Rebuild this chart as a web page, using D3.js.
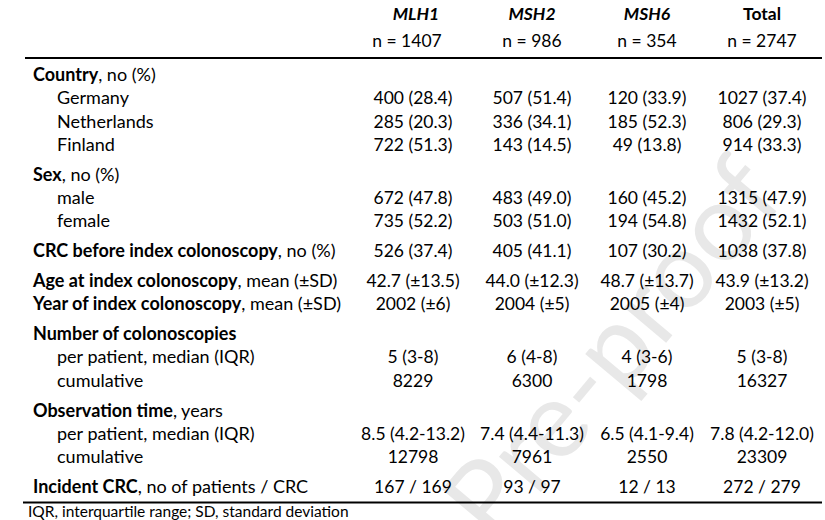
<!DOCTYPE html>
<html>
<head>
<meta charset="utf-8">
<script src="https://cdn.jsdelivr.net/npm/d3@7"></script>
<style>
  html, body { margin: 0; padding: 0; background: #fff; }
  svg { display: block; }
  text { font-family: Lato, "Open Sans", sans-serif; fill: #000; }
</style>
</head>
<body>
<svg id="chart" width="825" height="520"></svg>
<script>
// ---- data ----
const columns = ["MLH1", "MSH2", "MSH6", "Total"];
const columnItalic = [true, true, true, false];
const columnN = ["n = 1407", "n = 986", "n = 354", "n = 2747"];

const rowBold = ["Country", "", "", "", "Sex", "", "", "CRC before index colonoscopy",
  "Age at index colonoscopy", "Year of index colonoscopy", "Number of colonoscopies", "", "",
  "Observation time", "", "", "Incident CRC"];
const rowRest = [", no (%)", "Germany", "Netherlands", "Finland", ", no (%)", "male", "female",
  ", no (%)", ", mean (±SD)", ", mean (±SD)", "", "per patient, median (IQR)", "cumulative",
  ", years", "per patient, median (IQR)", "cumulative", ", no of patients / CRC"];
// rows that start a new block (extra space above)
const rowNewBlock = [false, false, false, false, true, false, false, true, true, false, true,
  false, false, true, false, false, true];

const valuesMLH1 = ["", "400 (28.4)", "285 (20.3)", "722 (51.3)", "", "672 (47.8)", "735 (52.2)",
  "526 (37.4)", "42.7 (±13.5)", "2002 (±6)", "", "5 (3-8)", "8229", "", "8.5 (4.2-13.2)", "12798", "167 / 169"];
const valuesMSH2 = ["", "507 (51.4)", "336 (34.1)", "143 (14.5)", "", "483 (49.0)", "503 (51.0)",
  "405 (41.1)", "44.0 (±12.3)", "2004 (±5)", "", "6 (4-8)", "6300", "", "7.4 (4.4-11.3)", "7961", "93 / 97"];
const valuesMSH6 = ["", "120 (33.9)", "185 (52.3)", "49 (13.8)", "", "160 (45.2)", "194 (54.8)",
  "107 (30.2)", "48.7 (±13.7)", "2005 (±4)", "", "4 (3-6)", "1798", "", "6.5 (4.1-9.4)", "2550", "12 / 13"];
const valuesTotal = ["", "1027 (37.4)", "806 (29.3)", "914 (33.3)", "", "1315 (47.9)", "1432 (52.1)",
  "1038 (37.8)", "43.9 (±13.2)", "2003 (±5)", "", "5 (3-8)", "16327", "", "7.8 (4.2-12.0)", "23309", "272 / 279"];

const footnote = "IQR, interquartile range; SD, standard deviation";
const watermark = "Journal Pre-proof";

// ---- layout ----
const svg = d3.select("#chart");
const fsLabel = 18, fsValue = 17.5;

// column positions (scale over the four column names)
const x = d3.scaleOrdinal().domain(columns).range([413, 532, 647, 762]);

// vertical slot scale: each row = 1 slot, new block adds gap
const gapRatio = 6.5 / 23.3;
let acc = 0;
const slots = rowBold.map((b, i) => { if (i > 0) acc += 1 + (rowNewBlock[i] ? gapRatio : 0); return acc; });
const y = d3.scaleLinear().domain([0, slots[slots.length - 1]]).range([75, 487]);
const baseOff = 6;

// watermark
const wm = svg.append("g").attr("class", "watermark");
const wmSize = 108;
const wmText = wm.append("text")
  .attr("font-size", wmSize)
  .style("fill", "#e8e8e8")
  .text(watermark);
(function () {
  const tmp = wm.append("text").attr("font-size", wmSize).text("Pre-proof");
  const wPre = tmp.node().getComputedTextLength();
  tmp.remove();
  const cx = 612, cy = 348, ang = -50;
  wmText.attr("text-anchor", "end")
    .attr("transform", `translate(${cx},${cy}) rotate(${ang}) translate(${wPre / 2},38)`);
})();

// header
const head = svg.append("g");
head.selectAll("text.col").data(columns).join("text")
  .attr("class", "col")
  .attr("x", d => x(d) + (d === "MLH1" ? 3 : 0)).attr("y", 20)
  .attr("text-anchor", "middle")
  .attr("font-size", fsValue).attr("font-weight", "bold")
  .attr("font-style", (d, i) => columnItalic[i] ? "italic" : "normal")
  .text(d => d);
head.selectAll("text.n").data(columnN).join("text")
  .attr("class", "n")
  .attr("x", (d, i) => x(columns[i]) - (i === 0 ? 6 : 0)).attr("y", 47)
  .attr("text-anchor", "middle")
  .attr("font-size", fsValue)
  .text(d => d);

// rules
svg.append("line").attr("x1", 25).attr("x2", 822).attr("y1", 58).attr("y2", 58)
  .attr("stroke", "#000").attr("stroke-width", 2);
svg.append("line").attr("x1", 23).attr("x2", 822).attr("y1", 502.5).attr("y2", 502.5)
  .attr("stroke", "#000").attr("stroke-width", 2);

// row labels
const rows = rowBold.map((b, i) => ({ b, r: rowRest[i], i }));
const lab = svg.append("g").selectAll("text").data(rows).join("text")
  .attr("x", d => d.b ? 33 : 57)
  .attr("y", d => y(slots[d.i]) + baseOff)
  .attr("font-size", fsLabel);
lab.append("tspan").attr("font-weight", "bold").text(d => d.b);
lab.append("tspan").text(d => d.r);

// values
const allValues = [valuesMLH1, valuesMSH2, valuesMSH6, valuesTotal];
allValues.forEach((vals, c) => {
  svg.append("g").selectAll("text").data(vals.map((v, i) => ({ v, i })).filter(d => d.v)).join("text")
    .attr("x", x(columns[c]))
    .attr("y", d => y(slots[d.i]) + baseOff)
    .attr("text-anchor", "middle")
    .attr("font-size", fsValue)
    .text(d => d.v);
});

// footnote
svg.append("text").attr("x", 28).attr("y", 517).attr("font-size", 15.5).text(footnote);
</script>
</body>
</html>
